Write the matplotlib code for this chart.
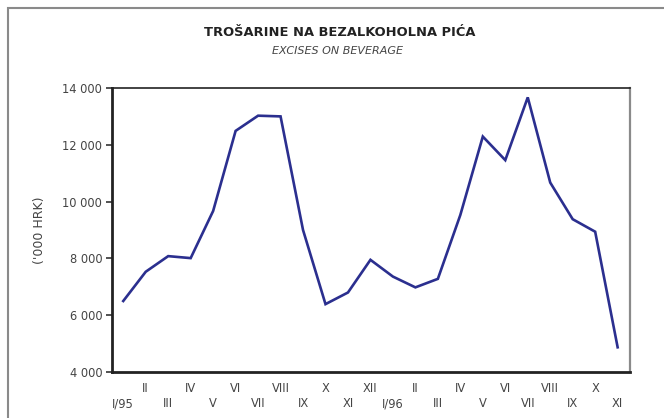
import matplotlib.pyplot as plt
from matplotlib.patches import Rectangle

months = ["I/95", "II", "III", "IV", "V", "VI", "VII", "VIII", "IX", "X", "XI", "XII",
          "I/96", "II", "III", "IV", "V", "VI", "VII", "VIII", "IX", "X", "XI"]
excises = [6500, 7530, 8080, 8010, 9670, 12490, 13025, 13000, 9000, 6390, 6800, 7950,
           7360, 6980, 7280, 9530, 12290, 11460, 13670, 10670, 9380, 8940, 4870]
yticks = [4000, 6000, 8000, 10000, 12000, 14000]

plt.rcParams["font.family"] = "DejaVu Sans"

fig = plt.figure(figsize=(6.64, 4.18), dpi=100)

# outer frame of the page box
fig.patches.append(Rectangle((8 / 664, -0.1), 1.2, 1.1 - 8 / 418,
                             transform=fig.transFigure, fill=False,
                             edgecolor="#8a8a8a", linewidth=1.5))

ax = fig.add_axes([0.1687, 0.1100, 0.7801, 0.6795])
x = list(range(len(months)))
ax.plot(x, excises, color="#2b2f8f", linewidth=1.9, solid_joinstyle="miter")

ax.set_xlim(-0.5, 22.55)
ax.set_ylim(4000, 14000)
ax.set_yticks(yticks)
ax.set_yticklabels([f"{v:,}".replace(",", " ") for v in yticks],
                   fontsize=8.3, color="#444444")
ax.tick_params(axis="y", direction="out", length=4, width=1.2, color="#333333", pad=3)

ax.set_xticks([])
for i, m in enumerate(months):
    yy = -0.058 if i % 2 == 1 else -0.112
    ax.text(i, yy, m, transform=ax.get_xaxis_transform(), ha="center", va="center",
            fontsize=8.3, color="#444444")

for side in ["left", "bottom", "top"]:
    ax.spines[side].set_color("#222222")
ax.spines["left"].set_linewidth(2)
ax.spines["bottom"].set_linewidth(2)
ax.spines["top"].set_linewidth(1.2)
ax.spines["right"].set_color("#8a8a8a")
ax.spines["right"].set_linewidth(1.6)

fig.text(40 / 664, 1 - 230 / 418, "('000 HRK)", rotation=90, ha="center", va="center",
         fontsize=9, color="#444444")

fig.text(340 / 664, 1 - 33 / 418, "TROŠARINE NA BEZALKOHOLNA PIĆA", ha="center", va="center",
         fontsize=9.4, fontweight="bold", color="#222222")
fig.text(338 / 664, 1 - 51 / 418, "EXCISES ON BEVERAGE", ha="center", va="center",
         fontsize=8, style="italic", color="#444444")

fig.savefig("out.png", dpi=100)
